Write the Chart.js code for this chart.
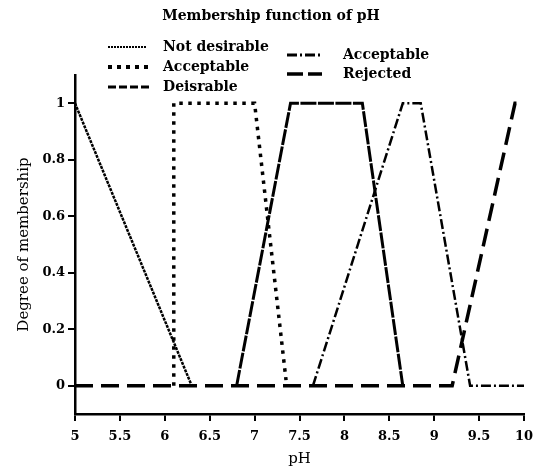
<!DOCTYPE html>
<html><head><meta charset="utf-8">
<script src="https://cdn.jsdelivr.net/npm/chart.js@4"></script>
<style>html,body{margin:0;padding:0;background:#fff}#wrap{width:537px;height:468px}</style>
</head><body><div id="wrap"><canvas id="c" width="537" height="468"></canvas></div>
<script>
const chartTitle = "Membership function of pH";
const xTicks = [5, 5.5, 6, 6.5, 7, 7.5, 8, 8.5, 9, 9.5, 10];
const yTicks = [0, 0.2, 0.4, 0.6, 0.8, 1];
const seriesNames = ["Not desirable", "Acceptable", "Deisrable", "Acceptable", "Rejected"];
const notDesirableX = [5, 6.3];
const notDesirableY = [1, 0];
const acceptable1X = [6.1, 6.1, 7.0, 7.35];
const acceptable1Y = [0, 1, 1, 0.02];
const desirableX = [6.8, 7.4, 8.2, 8.65];
const desirableY = [0, 1, 1, 0];
const acceptable2X = [7.65, 8.65, 8.85, 9.4, 10];
const acceptable2Y = [0, 1, 1, 0, 0];
const rejectedX = [5, 9.2, 9.9, 10];
const rejectedY = [0, 0, 1, 1];

const pts = (xs, ys) => xs.map((x, i) => ({x, y: ys[i]}));
const serif = "'DejaVu Serif', 'Liberation Serif', serif";

const styles = [
  {w: 2.5, dash: [3, 1], legendDash: [2, 1], lw: 2},
  {w: 3.5, dash: [3.5, 5.5], legendDash: [4, 5], lw: 4},
  {w: 3, dash: [16, 1.5], legendDash: [8, 3], lw: 3},
  {w: 2.5, dash: [10, 3, 2, 3], legendDash: [10, 3, 2, 3], lw: 3},
  {w: 3.5, dash: [18, 8], legendDash: [16, 5], lw: 3.5}
];
const allData = [
  pts(notDesirableX, notDesirableY),
  pts(acceptable1X, acceptable1Y),
  pts(desirableX, desirableY),
  pts(acceptable2X, acceptable2Y),
  pts(rejectedX, rejectedY)
];
const datasets = seriesNames.map((n, i) => ({
  label: n, data: allData[i], borderColor: '#000', backgroundColor: '#000',
  borderWidth: styles[i].w, borderDash: styles[i].dash, legendDash: styles[i].legendDash, legendWidth: styles[i].lw,
  pointRadius: 0, fill: false, tension: 0, borderCapStyle: 'butt'
}));

const legendLayout = [
  {x1: 108, x2: 147, tx: 163, y: 47},
  {x1: 108, x2: 150, tx: 163, y: 67},
  {x1: 108, x2: 150, tx: 163, y: 87},
  {x1: 287, x2: 322, tx: 343, y: 55},
  {x1: 287, x2: 322, tx: 343, y: 74}
];

const decor = {
  id: 'decor',
  afterDraw(chart) {
    const ctx = chart.ctx;
    ctx.save();
    ctx.fillStyle = '#000';
    ctx.font = "bold 14px " + serif;
    ctx.textAlign = 'center'; ctx.textBaseline = 'middle';
    ctx.fillText(chartTitle, 271, 16);
    ctx.textAlign = 'left';
    chart.data.datasets.forEach((d, i) => {
      const L = legendLayout[i];
      ctx.strokeStyle = '#000';
      ctx.lineWidth = d.legendWidth;
      ctx.setLineDash(d.legendDash);
      ctx.beginPath(); ctx.moveTo(L.x1, L.y); ctx.lineTo(L.x2, L.y); ctx.stroke();
      ctx.setLineDash([]);
      ctx.font = "bold 14px " + serif;
      ctx.fillText(d.label, L.tx, L.y);
    });
    ctx.restore();
  }
};

new Chart(document.getElementById('c'), {
  type: 'line',
  data: {datasets},
  plugins: [decor],
  options: {
    responsive: false, animation: false, devicePixelRatio: 1,
    layout: {padding: {top: 75, right: 13, left: 0, bottom: 0}},
    plugins: {legend: {display: false}, tooltip: {enabled: false}, title: {display: false}},
    scales: {
      x: {
        type: 'linear', min: 5, max: 10,
        afterBuildTicks: s => { s.ticks = xTicks.map(v => ({value: v})); },
        afterFit: s => { s.height = 54; s.paddingLeft = 0; s.paddingRight = 0; },
        grid: {drawOnChartArea: false, drawTicks: true, tickLength: 7, color: '#000', lineWidth: 2},
        border: {color: '#000', width: 2.5},
        ticks: {color: '#000', font: {family: serif, size: 13, weight: 'bold'}, padding: 8, maxRotation: 0,
                callback: v => String(v)},
        title: {display: true, text: 'pH', color: '#000', font: {family: serif, size: 15, weight: 'normal'}, padding: {top: 0, bottom: 0}}
      },
      y: {
        min: -0.1, max: 1.1,
        afterBuildTicks: s => { s.ticks = yTicks.map(v => ({value: v})); },
        afterFit: s => { s.width = 75; s.paddingTop = 0; s.paddingBottom = 0; },
        grid: {drawOnChartArea: false, drawTicks: true, tickLength: 7, color: '#000', lineWidth: 2},
        border: {color: '#000', width: 2.5},
        ticks: {color: '#000', font: {family: serif, size: 13, weight: 'bold'}, padding: 3,
                callback: v => String(Math.round(v * 10) / 10)},
        title: {display: true, text: 'Degree of membership', color: '#000', font: {family: serif, size: 15, weight: 'normal'}, padding: {top: 15, bottom: 0}}
      }
    }
  }
});
</script></body></html>
